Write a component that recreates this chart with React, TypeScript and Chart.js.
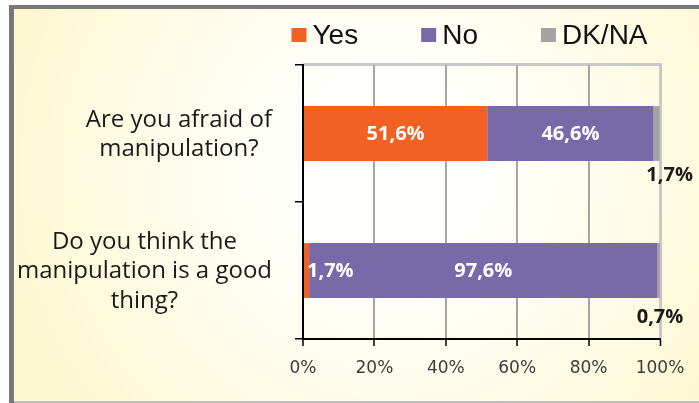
import React, { useEffect, useRef } from "react";
import { Chart, registerables } from "chart.js";
Chart.register(...registerables);

const categories = [
  ["Are you afraid of", "manipulation?"],
  ["Do you think the", "manipulation is a good", "thing?"],
];
const seriesNames = ["Yes", "No", "DK/NA"];
const yesValues = [51.6, 1.7];
const noValues = [46.6, 97.6];
const dkValues = [1.7, 0.7];
const xTickValues = [0, 20, 40, 60, 80, 100];
const seriesColors = ["#F26124", "#7869A8", "#A3A3A3"];

const fmt = (v: number) => v.toFixed(1).replace(".", ",") + "%";

const framePlugin = {
  id: "frame",
  beforeDraw(chart: any) {
    const { ctx, width: W, height: H, chartArea: a } = chart;
    ctx.save();
    ctx.fillStyle = "#ffffff";
    ctx.fillRect(0, 0, W, H);
    const g = ctx.createRadialGradient(390, 170, 0, 390, 170, 390);
    g.addColorStop(0, "#FFFFFF");
    g.addColorStop(0.3, "#FFFFFA");
    g.addColorStop(1, "#FDF8D2");
    ctx.fillStyle = g;
    ctx.fillRect(9, 5, W - 9, H - 5);
    ctx.fillStyle = "#787878";
    ctx.fillRect(9, 5, W - 9, 4);
    ctx.fillRect(9, 5, 5, H - 5);
    ctx.fillStyle = "#BEBEBE";
    ctx.fillRect(14, H - 2, W - 14, 2);
    // plot top border
    ctx.fillStyle = "#C8C8C8";
    ctx.fillRect(a.left, a.top - 2, a.right - a.left + 2, 3);
    ctx.restore();
  },
};

const legendPlugin = {
  id: "customLegend",
  afterDraw(chart: any) {
    const { ctx, chartArea: a } = chart;
    ctx.save();
    ctx.font = '28px "Liberation Sans", Arial, sans-serif';
    const box = 15;
    const gap = 6;
    const spacing = 63;
    const items = chart.data.datasets.map((d: any) => ({
      label: d.label,
      color: d.backgroundColor,
      w: box + gap + ctx.measureText(d.label).width,
    }));
    const total = items.reduce((s: number, it: any) => s + it.w, 0) + spacing * (items.length - 1);
    let x = (a.left + a.right) / 2 - 12 - total / 2;
    const yBase = 44;
    items.forEach((it: any) => {
      ctx.fillStyle = it.color;
      ctx.fillRect(x, 28, box, 14);
      ctx.fillStyle = "#111";
      ctx.textBaseline = "alphabetic";
      ctx.textAlign = "left";
      ctx.fillText(it.label, x + box + gap, yBase);
      x += it.w + spacing;
    });
    ctx.restore();
  },
};

const yLabelPlugin = {
  id: "yLabels",
  afterDraw(chart: any) {
    const { ctx, chartArea: a } = chart;
    const ys = chart.scales.y;
    ctx.save();
    ctx.font = '24px "Open Sans", sans-serif';
    ctx.fillStyle = "#1a1a1a";
    ctx.textAlign = "center";
    ctx.textBaseline = "middle";
    const right = a.left - 31;
    const lh = 29.5;
    categories.forEach((lines, i) => {
      const cy = ys.getPixelForValue(i);
      const wMax = Math.max(...lines.map((l) => ctx.measureText(l).width));
      const cx = right - wMax / 2;
      lines.forEach((l, j) => {
        ctx.fillText(l, cx, cy + (j - (lines.length - 1) / 2) * lh + 1);
      });
    });
    ctx.restore();
  },
};

const dataLabelPlugin = {
  id: "dataLabels",
  afterDatasetsDraw(chart: any, _args: any, opts: any) {
    const { ctx } = chart;
    ctx.save();
    ctx.font = 'bold 20px "Open Sans", sans-serif';
    ctx.textBaseline = "middle";
    chart.data.datasets.forEach((ds: any, di: number) => {
      const meta = chart.getDatasetMeta(di);
      meta.data.forEach((bar: any, i: number) => {
        const v = ds.data[i] as number;
        const { x, y, base, height } = bar.getProps(["x", "y", "base", "height"], true);
        const text = fmt(v);
        const tw = ctx.measureText(text).width;
        if (di === 2) {
          const off = opts.outsideOffsets[i];
          ctx.fillStyle = "#1a1a1a";
          ctx.textAlign = "center";
          ctx.fillText(text, x + off[0], y + height / 2 + off[1]);
        } else {
          ctx.fillStyle = "#ffffff";
          if (Math.abs(x - base) > tw + 6) {
            ctx.textAlign = "center";
            ctx.fillText(text, (x + base) / 2, y + 1);
          } else {
            ctx.textAlign = "left";
            ctx.fillText(text, base + 3, y + 1);
          }
        }
      });
    });
    ctx.restore();
  },
};

export default function App() {
  const ref = useRef<HTMLCanvasElement | null>(null);
  useEffect(() => {
    if (!ref.current) return;
    const chart = new Chart(ref.current, {
      type: "bar",
      data: {
        labels: categories.map((c) => c.join(" ")),
        datasets: [
          { label: seriesNames[0], data: yesValues, backgroundColor: seriesColors[0] },
          { label: seriesNames[1], data: noValues, backgroundColor: seriesColors[1] },
          { label: seriesNames[2], data: dkValues, backgroundColor: seriesColors[2] },
        ],
      },
      options: {
        indexAxis: "y",
        responsive: false,
        animation: false,
        devicePixelRatio: 1,
        layout: { padding: { top: 65, left: 0, right: 39, bottom: 0 } },
        datasets: { bar: { barPercentage: 0.5, categoryPercentage: 0.8 } },
        plugins: {
          legend: { display: false },
          tooltip: { enabled: false },
          dataLabels: { outsideOffsets: [[10, 14], [0, 19]] },
        } as any,
        scales: {
          x: {
            stacked: true,
            min: 0,
            max: 100,
            afterBuildTicks: (s: any) => {
              s.ticks = xTickValues.map((v) => ({ value: v }));
            },
            afterFit: (s: any) => {
              s.height = 64;
            },
            ticks: {
              callback: (v: any) => v + "%",
              font: { family: '"DejaVu Sans", sans-serif', size: 17 },
              color: "#3c3c3c",
              padding: 12,
              maxRotation: 0,
              autoSkip: false,
            },
            grid: {
              color: (c: any) =>
                c.index === 0 ? "rgba(0,0,0,0)" : c.index === 5 ? "#C8C8C8" : "#A6A6A6",
              lineWidth: (c: any) => (c.index === 5 ? 3 : 2),
              tickColor: "#000",
              tickWidth: 1.5,
              tickLength: 7,
            },
            border: { color: "#000", width: 2 },
          },
          y: {
            stacked: true,
            afterFit: (s: any) => {
              s.width = 303;
            },
            ticks: { display: false },
            grid: {
              offset: true,
              drawOnChartArea: false,
              color: "#000",
              tickLength: 8,
              lineWidth: 1.5,
            },
            border: { color: "#000", width: 2 },
          },
        },
      },
      plugins: [framePlugin, legendPlugin, yLabelPlugin, dataLabelPlugin],
    });
    return () => chart.destroy();
  }, []);
  return (
    <div style={{ position: "fixed", left: 0, top: 0, width: 699, height: 403 }}>
      <canvas ref={ref} width={699} height={403} style={{ display: "block" }} />
    </div>
  );
}
